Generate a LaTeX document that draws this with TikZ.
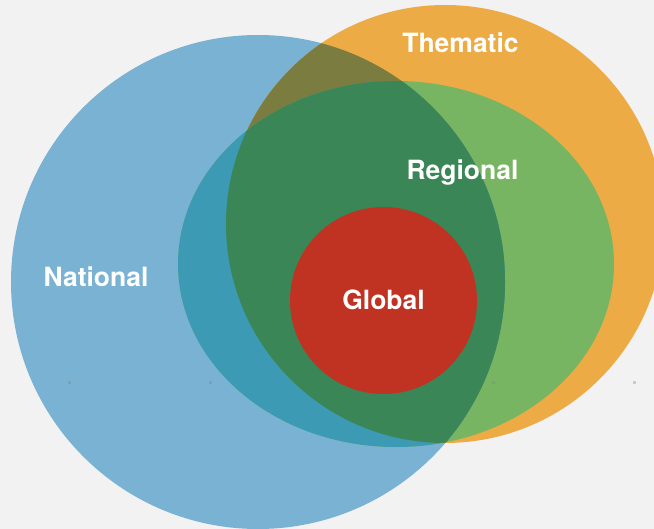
\documentclass[tikz,border=0pt]{standalone}
\usepackage{fontspec}
\setmainfont{TeX Gyre Heros}
\definecolor{bg}{HTML}{F2F2F2}
\definecolor{natblue}{HTML}{7AB2D4}
\definecolor{themorange}{HTML}{ECAB45}
\definecolor{reggreen}{HTML}{78B562}
\definecolor{olive}{HTML}{7A7D3F}
\definecolor{tealc}{HTML}{3C9AB5}
\definecolor{darkg}{HTML}{3B8656}
\definecolor{globred}{HTML}{C03222}
\tikzset{
  lbl/.style={anchor=base, inner sep=0pt, text=white, font=\fontsize{26.5}{30}\selectfont\bfseries},
  dotmark/.style={fill=gray, opacity=0.35}
}
\newcommand{\bluepath}{(258,282) circle[radius=247]}
\newcommand{\orangepath}{(445,224) circle[radius=219]}
\newcommand{\greenpath}{(396,264) circle[x radius=218, y radius=183]}
\begin{document}
\begin{tikzpicture}[x=1pt,y=-1pt]
\useasboundingbox (0,0) rectangle (654,529);
\fill[bg] (0,0) rectangle (654,529);
\begin{scope}
\clip (0,0) rectangle (654,529);
\fill[natblue] \bluepath;
\fill[themorange] \orangepath;
\fill[reggreen] \greenpath;
\begin{scope}
  \clip \bluepath;
  \fill[olive] \orangepath;
  \fill[tealc] \greenpath;
  \begin{scope}
    \clip \orangepath;
    \fill[darkg] \greenpath;
  \end{scope}
\end{scope}
\fill[globred] (383.5,300.5) circle[radius=93.5];
\end{scope}
\foreach \px in {69,210,493,634}{
  \fill[dotmark] (\px-1.5,381.5) rectangle (\px+1.5,384.5);
}
\node[lbl] (thematic) at (460.5,53) {Thematic};
\node[lbl] (regional) at (462.5,180) {Regional};
\node[lbl] (national) at (96,287) {National};
\node[lbl] (global) at (383.5,310) {Global};
\end{tikzpicture}
\end{document}
